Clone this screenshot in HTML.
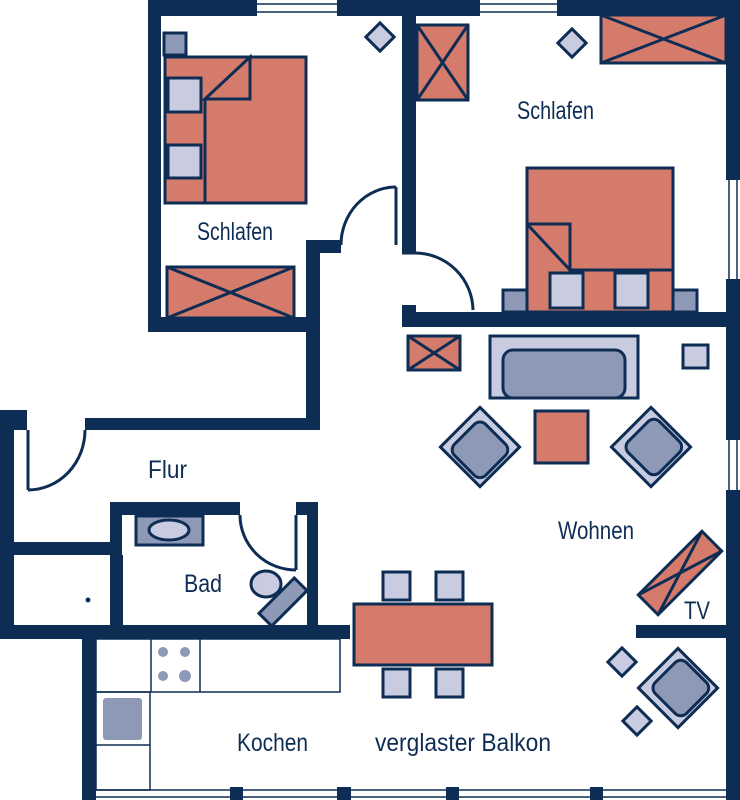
<!DOCTYPE html>
<html><head><meta charset="utf-8"><style>
html,body{margin:0;padding:0;background:#fff}
svg{display:block}
text{font-family:"Liberation Sans Narrow","Liberation Sans",sans-serif;fill:#0e2d55;font-size:25px}
</style></head><body>
<svg width="740" height="800" viewBox="0 0 740 800" xmlns="http://www.w3.org/2000/svg">
<defs>
<g id="chair">
<rect x="-28" y="-28" width="56" height="56" fill="#c9cce0" stroke="#0e2d55" stroke-width="3"/>
<rect x="-20" y="-20" width="44" height="44" rx="8" fill="#8d99b6" stroke="#0e2d55" stroke-width="3"/>
</g>
</defs>
<g fill="#0e2d55">
<rect x="148" y="0" width="109" height="16"/>
<rect x="337" y="0" width="143" height="16"/>
<rect x="557" y="0" width="183" height="16"/>
<rect x="726" y="0" width="14" height="180"/>
<rect x="726" y="279" width="14" height="161"/>
<rect x="726" y="490" width="14" height="310"/>
<rect x="148" y="0" width="13" height="332"/>
<rect x="148" y="317" width="172" height="15"/>
<rect x="306" y="240" width="14" height="190"/>
<rect x="306" y="240" width="35" height="13"/>
<rect x="402" y="0" width="14" height="253"/>
<rect x="402" y="312" width="338" height="15"/>
<rect x="402" y="305" width="14" height="22"/>
<rect x="85" y="418" width="233" height="12"/>
<rect x="0" y="410" width="14" height="229"/>
<rect x="0" y="410" width="27" height="20"/>
<rect x="0" y="542" width="122" height="13"/>
<rect x="110" y="502" width="12" height="123"/>
<rect x="110" y="502" width="130" height="13"/>
<rect x="296" y="502" width="22" height="13"/>
<rect x="307" y="502" width="11" height="123"/>
<rect x="0" y="625" width="350" height="14"/>
<rect x="82" y="625" width="14" height="175"/>
<rect x="636" y="625" width="104" height="13"/>
<rect x="230" y="787" width="13" height="13"/>
<rect x="337" y="787" width="14" height="13"/>
<rect x="446" y="787" width="13" height="13"/>
<rect x="590" y="787" width="13" height="13"/>
</g>
<g stroke="#0e2d55" stroke-width="1.5" fill="none">
<line x1="257" y1="4" x2="337" y2="4"/><line x1="257" y1="12" x2="337" y2="12"/>
<line x1="480" y1="4" x2="557" y2="4"/><line x1="480" y1="12" x2="557" y2="12"/>
<line x1="729" y1="180" x2="729" y2="279"/><line x1="737" y1="180" x2="737" y2="279"/>
<line x1="729" y1="440" x2="729" y2="490"/><line x1="737" y1="440" x2="737" y2="490"/>
<line x1="96" y1="790" x2="726" y2="790"/><line x1="96" y1="797" x2="726" y2="797"/>
<line x1="396" y1="187" x2="396" y2="245" stroke-width="3"/>
<path d="M341 245 A55 58 0 0 1 396 187" stroke-width="3"/>
<path d="M415 253 A58 58 0 0 1 473 310" stroke-width="3"/>
<line x1="402" y1="253" x2="416" y2="253" stroke-width="3"/>
<line x1="28" y1="430" x2="28" y2="490" stroke-width="3"/>
<path d="M28 490 A57 60 0 0 0 85 430" stroke-width="3"/>
<line x1="296" y1="515" x2="296" y2="570" stroke-width="3"/>
<path d="M240 515 A56 55 0 0 0 296 570" stroke-width="3"/>
<line x1="122" y1="555" x2="122" y2="625" stroke-width="2"/>
</g>
<circle cx="88" cy="600" r="2.5" fill="#0e2d55"/>
<g stroke="#0e2d55" stroke-width="3">
<rect x="164" y="33" width="22" height="22" fill="#8d99b6"/>
<rect x="165" y="57" width="141" height="146" fill="#d57b6b"/>
<line x1="205" y1="100" x2="205" y2="203"/>
<path d="M205 99 L250 57 L250 99 Z" fill="#d57b6b"/>
<rect x="168" y="78" width="33" height="34" fill="#c9cce0"/>
<rect x="168" y="145" width="33" height="33" fill="#c9cce0"/>
<rect x="370" y="27" width="20" height="20" transform="rotate(45 380 37)" fill="#c9cce0"/>
<rect x="167" y="267" width="127" height="51" fill="#d57b6b"/>
<path d="M167 267 L294 318 M294 267 L167 318" fill="none"/>
<rect x="417" y="25" width="51" height="75" fill="#d57b6b"/>
<path d="M417 25 L468 100 M468 25 L417 100" fill="none"/>
<rect x="562" y="33" width="20" height="20" transform="rotate(45 572 43)" fill="#c9cce0"/>
<rect x="601" y="15" width="125" height="48" fill="#d57b6b"/>
<path d="M601 15 L726 63 M726 15 L601 63" fill="none"/>
<rect x="503" y="290" width="25" height="22" fill="#8d99b6"/>
<rect x="673" y="290" width="24" height="22" fill="#8d99b6"/>
<rect x="527" y="168" width="146" height="144" fill="#d57b6b"/>
<path d="M527 224 L570 224 L570 270 L673 270 M527 224 L570 270" fill="none"/>
<rect x="550" y="273" width="33" height="35" fill="#c9cce0"/>
<rect x="615" y="273" width="33" height="35" fill="#c9cce0"/>
<rect x="408" y="336" width="52" height="34" fill="#d57b6b"/>
<path d="M408 336 L460 370 M460 336 L408 370" fill="none"/>
<rect x="490" y="336" width="148" height="62" fill="#c9cce0"/>
<rect x="503" y="350" width="122" height="48" rx="10" fill="#8d99b6"/>
<rect x="683" y="345" width="25" height="23" fill="#c9cce0"/>
<rect x="535" y="411" width="53" height="52" fill="#d57b6b"/>
<g transform="translate(680,573) rotate(-45)">
<rect x="-45" y="-14" width="90" height="28" fill="#d57b6b"/>
<path d="M-45 -14 L45 14 M45 -14 L-45 14" fill="none"/>
</g>
<rect x="612" y="652" width="20" height="20" transform="rotate(45 622 662)" fill="#c9cce0"/>
<rect x="627" y="711" width="20" height="20" transform="rotate(45 637 721)" fill="#c9cce0"/>
<rect x="354" y="604" width="138" height="61" fill="#d57b6b"/>
<rect x="383" y="572" width="27" height="28" fill="#c9cce0"/>
<rect x="436" y="572" width="27" height="28" fill="#c9cce0"/>
<rect x="383" y="669" width="27" height="28" fill="#c9cce0"/>
<rect x="436" y="669" width="27" height="28" fill="#c9cce0"/>
<rect x="136" y="516" width="67" height="29" fill="#8d99b6"/>
<ellipse cx="169" cy="530" rx="20" ry="10" fill="#c9cce0"/>
<ellipse cx="266" cy="584" rx="15" ry="13" fill="#c9cce0"/>
<rect x="258" y="593" width="50" height="18" transform="rotate(-45 283 602)" fill="#8d99b6"/>
</g>
<g transform="translate(480,447) rotate(45)"><use href="#chair"/></g>
<g transform="translate(651,447) rotate(-45)"><use href="#chair"/></g>
<g transform="translate(678,688) rotate(-45)"><use href="#chair"/></g>
<g stroke="#0e2d55" stroke-width="1.5" fill="none">
<rect x="96" y="639" width="244" height="53"/>
<line x1="151" y1="639" x2="151" y2="692"/><line x1="200" y1="639" x2="200" y2="692"/>
<rect x="96" y="692" width="54" height="98"/>
<line x1="96" y1="745" x2="150" y2="745"/>
</g>
<g fill="#8d99b6">
<circle cx="163" cy="652" r="5"/><circle cx="185" cy="652" r="5"/>
<circle cx="163" cy="676" r="5"/><circle cx="185" cy="676" r="6"/>
<rect x="103" y="698" width="39" height="42" rx="3"/>
</g>
<text x="197" y="240" textLength="76" lengthAdjust="spacingAndGlyphs">Schlafen</text>
<text x="517" y="119" textLength="77" lengthAdjust="spacingAndGlyphs">Schlafen</text>
<text x="148" y="478" textLength="39" lengthAdjust="spacingAndGlyphs">Flur</text>
<text x="184" y="592" textLength="38" lengthAdjust="spacingAndGlyphs">Bad</text>
<text x="558" y="539" textLength="76" lengthAdjust="spacingAndGlyphs">Wohnen</text>
<text x="684" y="619" textLength="26" lengthAdjust="spacingAndGlyphs">TV</text>
<text x="237" y="751" textLength="71" lengthAdjust="spacingAndGlyphs">Kochen</text>
<text x="375" y="751" textLength="176" lengthAdjust="spacingAndGlyphs">verglaster Balkon</text>
</svg>
</body></html>
